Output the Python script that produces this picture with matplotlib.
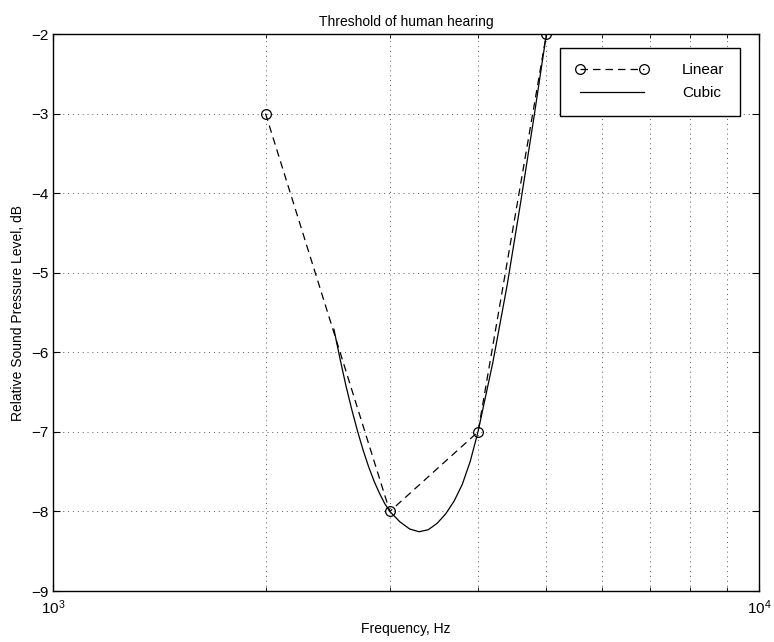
import numpy as np
import matplotlib
matplotlib.use("Agg")
import matplotlib.pyplot as plt
from matplotlib.ticker import LogLocator, NullFormatter, FixedLocator

# measured points
freq = [2000, 3000, 4000, 5000]
level = [-3, -8, -7, -2]

# cubic curve, values
cubic_freq = [2500, 2550, 2600, 2650, 2700, 2750, 2800, 2850, 2900, 2950,
              3000, 3100, 3200, 3300, 3400, 3500, 3600, 3700, 3800, 3900,
              4000, 4200, 4400, 4600, 4800, 5000]
cubic_level = [-5.71, -6.08, -6.42, -6.72, -6.99, -7.23, -7.44, -7.62, -7.77, -7.90,
               -8.0, -8.13, -8.22, -8.255, -8.23, -8.15, -8.03, -7.87, -7.66, -7.37,
               -7.0, -6.12, -5.15, -4.1, -3.05, -2.0]

plt.rcParams["font.family"] = ["Liberation Sans", "DejaVu Sans"]
plt.rcParams["axes.unicode_minus"] = True

fig = plt.figure(figsize=(7.74, 6.42), dpi=100)
ax = fig.add_axes([0.0685, 0.0794, 0.912, 0.8676])

ax.plot(freq, level, "o--", color="k", lw=0.9, markersize=7,
        markerfacecolor="none", markeredgewidth=0.9, dashes=(6, 4), label="Linear")
ax.plot(cubic_freq, cubic_level, "-", color="k", lw=0.9, label="Cubic")

ax.set_xscale("log")
ax.set_xlim(1000, 10000)
ax.set_ylim(-9, -2)
ax.set_yticks(np.arange(-9, -1, 1))
ax.xaxis.set_major_locator(FixedLocator([1000, 10000]))
ax.xaxis.set_minor_locator(LogLocator(base=10, subs=np.arange(2, 10)))
ax.xaxis.set_minor_formatter(NullFormatter())

ax.grid(True, which="both", linestyle=(0, (1, 4)), color="0.35", lw=0.7)
ax.tick_params(which="both", direction="in", top=True, right=True, labelsize=11)
ax.tick_params(which="major", length=5)
ax.tick_params(which="minor", length=3)
ax.tick_params(axis="x", pad=5)
for s in ax.spines.values():
    s.set_linewidth(1.0)

ax.set_title("Threshold of human hearing", fontsize=10)
ax.set_xlabel("Frequency, Hz", fontsize=10)
ax.set_ylabel("Relative Sound Pressure Level, dB", fontsize=10)

leg = ax.legend(loc="upper right", bbox_to_anchor=(0.973, 0.975), numpoints=2,
                handlelength=4.8, handletextpad=2.2, fontsize=11, fancybox=False,
                framealpha=1, edgecolor="k", borderpad=1.0, labelspacing=0.6,
                borderaxespad=0)
leg.get_frame().set_linewidth(1.0)

fig.savefig("out.png", dpi=100)
